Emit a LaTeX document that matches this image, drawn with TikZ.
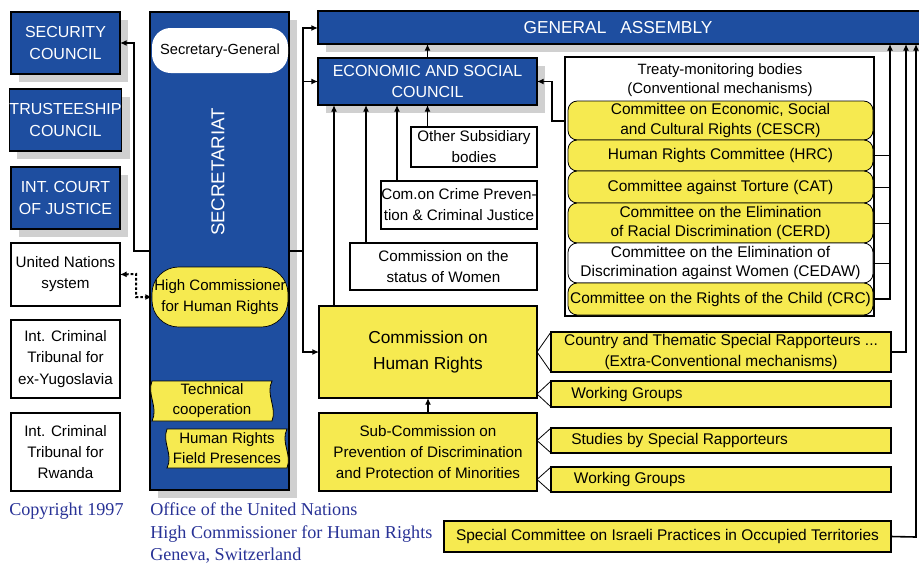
\documentclass[tikz,border=0pt]{standalone}
\usepackage{fontspec}
\setmainfont{Liberation Sans}
\newfontfamily\seriffont{Liberation Serif}
\usetikzlibrary{arrows.meta}
\definecolor{unblue}{RGB}{30,78,160}
\definecolor{unyellow}{RGB}{246,234,80}
\definecolor{shadowgray}{RGB}{208,208,208}
\definecolor{textblue}{RGB}{40,50,150}
\begin{document}
\begin{tikzpicture}[x=0.75pt,y=-0.75pt,
 area/.style n args={4}{at={({(#1+#3)/2},{(#2+#4)/2})}, minimum width={(#3-#1)*0.75pt}, minimum height={(#4-#2)*0.75pt}, inner sep=0pt, outer sep=0pt},
 bluebox/.style={fill=unblue, draw=black, line width=0.8pt, text=white, font=\fontsize{12}{16}\selectfont, align=center},
 shadowed/.style={preaction={fill=shadowgray, draw=none, transform canvas={shift={(6pt,-6pt)}}}},
 whitebox/.style={fill=white, draw=black, line width=0.8pt, align=center, font=\fontsize{11.4}{15.8}\selectfont},
 yellowbox/.style={fill=unyellow, draw=black, line width=0.8pt, align=center, font=\fontsize{11.6}{15.8}\selectfont},
 tabbox/.style={fill=unyellow, draw=black, line width=0.6pt, rounded corners=7pt, align=center, font=\fontsize{11.6}{14.5}\selectfont},
 plain/.style={align=center, inner sep=0pt, font=\fontsize{11.6}{15}\selectfont},
 conn/.style={line width=1.2pt, -{Latex[length=5pt,width=4.5pt]}},
 wire/.style={line width=1.2pt},
 thinwire/.style={line width=0.6pt},
 chevron/.style={line width=0.6pt},
 serifnote/.style={text=textblue, font=\seriffont\fontsize{13.6}{17}\selectfont, align=left, inner sep=0pt}
]
\useasboundingbox (0,0) rectangle (919,564);
\clip (0,0) rectangle (919,564);

% ---------------- left column
\node[bluebox, shadowed, area={11}{12}{120}{74}] (sc) {SECURITY\\COUNCIL};
\node[bluebox, shadowed, area={11}{89}{120}{151}] (tc) {TRUSTEESHIP\\COUNCIL};
\node[bluebox, shadowed, area={11}{167}{120}{229}] (icj) {INT. COURT\\OF JUSTICE};
\node[whitebox, area={11}{243}{120}{306}] (uns) {United Nations\\system};
\node[whitebox, area={11}{320}{120}{398}] (icty) {Int. Criminal\\Tribunal for\\ex-Yugoslavia};
\node[whitebox, area={11}{413}{120}{491}] (ictr) {Int. Criminal\\Tribunal for\\Rwanda};

% ---------------- secretariat
\node[bluebox, shadowed, area={150}{12}{289}{490}] (secr) {};
\node[rotate=90, text=white, font=\fontsize{14}{16}\selectfont, inner sep=0pt] (secrlabel) at (218,172) {SECRETARIAT};
\node[fill=white, rounded corners=14pt, area={152}{28}{288}{73}, font=\fontsize{11}{14}\selectfont] (sg) {Secretary-General};
\node[fill=unyellow, draw=black, line width=0.5pt, rounded corners=20pt, area={152}{267}{288}{327}, align=center, font=\fontsize{11.3}{15.5}\selectfont] (hc) {High Commissioner\\for Human Rights};

\node[area={152}{381}{272}{421}] (tcoop) {};
\draw[fill=unyellow, line width=0.6pt] (tcoop.north west) -- (tcoop.north east)
  .. controls ([xshift=-5pt,yshift=-10pt]tcoop.north east) and ([xshift=4pt,yshift=10pt]tcoop.south east) .. (tcoop.south east)
  -- (tcoop.south west)
  .. controls ([xshift=5pt,yshift=10pt]tcoop.south west) and ([xshift=-4pt,yshift=-10pt]tcoop.north west) .. (tcoop.north west) -- cycle;
\node[plain, font=\fontsize{11.3}{15}\selectfont] (tcooplabel) at (tcoop.center) {Technical\\cooperation};

\node[area={167}{429}{287}{468}] (hrfp) {};
\draw[fill=unyellow, line width=0.6pt] (hrfp.north west) -- (hrfp.north east)
  .. controls ([xshift=-5pt,yshift=-10pt]hrfp.north east) and ([xshift=4pt,yshift=10pt]hrfp.south east) .. (hrfp.south east)
  -- (hrfp.south west)
  .. controls ([xshift=5pt,yshift=10pt]hrfp.south west) and ([xshift=-4pt,yshift=-10pt]hrfp.north west) .. (hrfp.north west) -- cycle;
\node[plain, font=\fontsize{11.3}{15}\selectfont] (hrfplabel) at (hrfp.center) {Human Rights\\Field Presences};

% ---------------- notes
\node[serifnote, anchor=west] (copy) at (9,511) {Copyright 1997};
\node[serifnote, anchor=west] (office) at (150,533) {Office of the United Nations\\High Commissioner for Human Rights\\Geneva, Switzerland};

% ---------------- general assembly, ECOSOC
\node[bluebox, shadowed, area={318}{11}{924}{44}] (ga) {};
\node[text=white, font=\fontsize{13}{15}\selectfont, inner sep=0pt] (galabel) at (618,28) {GENERAL\hspace{0.8em}ASSEMBLY};
\node[bluebox, shadowed, area={318}{58}{537}{105}] (eco) {ECONOMIC AND SOCIAL\\COUNCIL};

\node[whitebox, area={411}{127}{537}{167}] (osb) {Other Subsidiary\\bodies};
\node[whitebox, area={381}{181}{537}{229}] (ccp) {Com.on Crime Preven-\\tion \& Criminal Justice};
\node[whitebox, area={350}{243}{537}{290}] (csw) {Commission on the\\status of Women};

\node[yellowbox, area={319}{306}{537}{398}, font=\fontsize{13}{19}\selectfont] (chr) {Commission on\\Human Rights};
\node[yellowbox, area={319}{413}{537}{491}, font=\fontsize{11.4}{16}\selectfont] (subc) {Sub-Commission on\\Prevention of Discrimination\\and Protection of Minorities};

% ---------------- treaty bodies
\node[fill=white, draw=black, line width=1.2pt, area={565}{57}{874}{316}] (tmb) {};
\node[plain, font=\fontsize{11.2}{14.5}\selectfont] (tmbtitle) at (720,80) {Treaty-monitoring bodies\\(Conventional mechanisms)};
\node[tabbox, area={568}{101}{873}{140}] (cescr) {Committee on Economic, Social\\and Cultural Rights (CESCR)};
\node[tabbox, area={568}{140}{873}{171}] (hrc) {Human Rights Committee (HRC)};
\node[tabbox, area={568}{171}{873}{203}] (cat) {Committee against Torture (CAT)};
\node[tabbox, area={568}{203}{873}{243}] (cerd) {Committee on the Elimination\\of Racial Discrimination (CERD)};
\node[tabbox, fill=white, area={568}{243}{873}{283}] (cedaw) {Committee on the Elimination of\\Discrimination against Women (CEDAW)};
\node[tabbox, area={568}{283}{873}{315}] (crc) {Committee on the Rights of the Child (CRC)};

% ---------------- extra-conventional
\node[yellowbox, area={551}{332}{891}{372}] (csr) {Country and Thematic Special Rapporteurs ...\\(Extra-Conventional mechanisms)};
\node[yellowbox, area={551}{381}{891}{407}] (wg1) {};
\node[plain, anchor=west] (wg1label) at ([xshift=15pt]wg1.west) {Working Groups};
\node[yellowbox, area={551}{428}{891}{453}] (ssr) {};
\node[plain, anchor=west] (ssrlabel) at ([xshift=15pt]ssr.west) {Studies by Special Rapporteurs};
\node[yellowbox, area={551}{467}{891}{492}] (wg2) {};
\node[plain, anchor=west] (wg2label) at ([xshift=17pt]wg2.west) {Working Groups};
\node[yellowbox, area={444}{521}{891}{552}] (ispr) {Special Committee on Israeli Practices in Occupied Territories};

\foreach \n in {csr,wg1,ssr,wg2}{
  \draw[chevron] (\n.north west) -- ([xshift=-10.5pt]\n.west) -- (\n.south west);
}

% ---------------- connectors
\coordinate (s1) at (134,251);
\draw[conn] (secr.west |- s1) -- (s1) -- (s1 |- sc.east) -- (sc.east);

\coordinate (s2) at (303,251);
\draw[wire] (secr.east |- s2) -- (s2);
\coordinate (gal) at (318,28);
\draw[conn] (s2) -- (s2 |- gal) -- (gal);
\draw[conn] (s2 |- eco.west) -- (eco.west);
\draw[conn] (s2) -- (s2 |- chr.west) -- (chr.west);

\coordinate (d1) at (136,274);
\draw[line width=1.5pt, dash pattern=on 2pt off 1.5pt, {Latex[length=5pt,width=4.5pt]}-{Latex[length=5pt,width=4.5pt]}] (uns.east) -- (d1) -- (d1 |- hc.west) -- (hc.west);

\draw[conn] (eco.north) -- (eco.north |- ga.south);

\coordinate (e1) at (334,200);
\coordinate (e2) at (366,200);
\coordinate (e3) at (397,200);
\draw[conn] (e1 |- chr.north) -- (e1 |- eco.south);
\draw[conn] (e2 |- csw.north) -- (e2 |- eco.south);
\draw[conn] (e3 |- ccp.north) -- (e3 |- eco.south);
\draw[conn] (eco.south |- osb.north) -- (eco.south);

\draw[conn] (subc.north) -- (chr.south);

\coordinate (t1) at (552,121);
\draw[conn] (tmb.west |- t1) -- (t1) -- (t1 |- eco.east) -- (eco.east);

\coordinate (v1) at (890,299);
\draw[conn] (crc.east |- v1) -- (v1) -- (v1 |- ga.south);
\foreach \n in {hrc,cat,cerd,cedaw}{
  \draw[thinwire] (\n.east) -- (\n.east -| v1);
}
\coordinate (v2) at (906,352);
\draw[conn] (csr.east) -- (v2) -- (v2 |- ga.south);
\coordinate (v3) at (916,537);
\draw[conn] (ispr.east) -- (v3) -- (v3 |- ga.south);
\end{tikzpicture}
\end{document}
